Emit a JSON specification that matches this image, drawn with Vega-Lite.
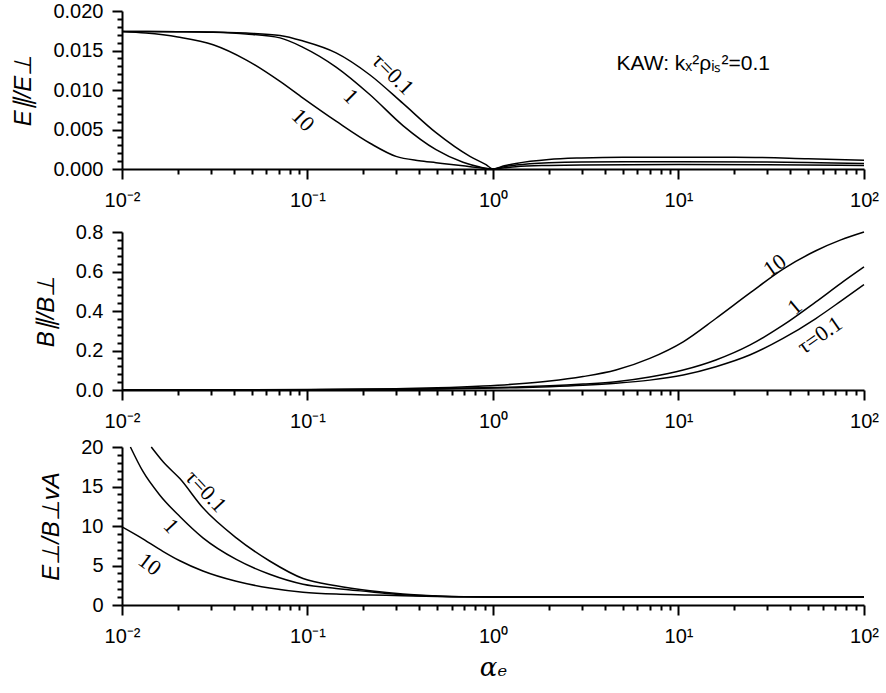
{
  "$schema": "https://vega.github.io/schema/vega-lite/v6.json",
  "padding": {"left": 11, "top": 1, "right": 5, "bottom": 5},
  "background": "white",
  "config": {
    "view": {"stroke": null},
    "axis": {
      "grid": false,
      "domainColor": "black",
      "domainWidth": 2,
      "labelColor": "black",
      "labelFont": "Liberation Sans",
      "labelFontSize": 20,
      "titleColor": "black",
      "titleFont": "Liberation Sans",
      "titleFontSize": 24,
      "titleFontWeight": "normal",
      "titleFontStyle": "italic"
    }
  },
  "datasets": {
    "epar": [
      {"a": 0.01, "v": 0.0174, "tau": "0.1"},
      {"a": 0.02, "v": 0.01738, "tau": "0.1"},
      {"a": 0.031, "v": 0.01735, "tau": "0.1"},
      {"a": 0.0466, "v": 0.0172, "tau": "0.1"},
      {"a": 0.0711, "v": 0.0169, "tau": "0.1"},
      {"a": 0.0946, "v": 0.0162, "tau": "0.1"},
      {"a": 0.1426, "v": 0.0147, "tau": "0.1"},
      {"a": 0.2173, "v": 0.0119, "tau": "0.1"},
      {"a": 0.327, "v": 0.0083, "tau": "0.1"},
      {"a": 0.493, "v": 0.0046, "tau": "0.1"},
      {"a": 0.751, "v": 0.0016, "tau": "0.1"},
      {"a": 0.917, "v": 0.00055, "tau": "0.1"},
      {"a": 1, "v": 0, "tau": "0.1"},
      {"a": 1.15, "v": 0.0004, "tau": "0.1"},
      {"a": 1.33, "v": 0.0007, "tau": "0.1"},
      {"a": 2, "v": 0.0012, "tau": "0.1"},
      {"a": 3, "v": 0.0014, "tau": "0.1"},
      {"a": 5, "v": 0.0015, "tau": "0.1"},
      {"a": 10, "v": 0.0015, "tau": "0.1"},
      {"a": 20, "v": 0.0015, "tau": "0.1"},
      {"a": 50, "v": 0.0013, "tau": "0.1"},
      {"a": 100, "v": 0.0011, "tau": "0.1"},
      {"a": 0.01, "v": 0.0174, "tau": "1"},
      {"a": 0.02, "v": 0.01737, "tau": "1"},
      {"a": 0.031, "v": 0.0173, "tau": "1"},
      {"a": 0.0466, "v": 0.0171, "tau": "1"},
      {"a": 0.0711, "v": 0.0166, "tau": "1"},
      {"a": 0.0946, "v": 0.0154, "tau": "1"},
      {"a": 0.1426, "v": 0.0129, "tau": "1"},
      {"a": 0.2173, "v": 0.0094, "tau": "1"},
      {"a": 0.327, "v": 0.0055, "tau": "1"},
      {"a": 0.493, "v": 0.00245, "tau": "1"},
      {"a": 0.689, "v": 0.00085, "tau": "1"},
      {"a": 0.85, "v": 0.00025, "tau": "1"},
      {"a": 1, "v": 0, "tau": "1"},
      {"a": 1.15, "v": 0.0003, "tau": "1"},
      {"a": 1.33, "v": 0.0005, "tau": "1"},
      {"a": 2, "v": 0.0008, "tau": "1"},
      {"a": 3, "v": 0.0009, "tau": "1"},
      {"a": 10, "v": 0.00092, "tau": "1"},
      {"a": 30, "v": 0.0009, "tau": "1"},
      {"a": 100, "v": 0.0007, "tau": "1"},
      {"a": 0.01, "v": 0.0174, "tau": "10"},
      {"a": 0.01345, "v": 0.0172, "tau": "10"},
      {"a": 0.02, "v": 0.0167, "tau": "10"},
      {"a": 0.031, "v": 0.01573, "tau": "10"},
      {"a": 0.0466, "v": 0.01382, "tau": "10"},
      {"a": 0.0711, "v": 0.01108, "tau": "10"},
      {"a": 0.0946, "v": 0.00897, "tau": "10"},
      {"a": 0.1426, "v": 0.00605, "tau": "10"},
      {"a": 0.2173, "v": 0.00326, "tau": "10"},
      {"a": 0.3, "v": 0.0016, "tau": "10"},
      {"a": 0.4, "v": 0.00105, "tau": "10"},
      {"a": 0.493, "v": 0.0008, "tau": "10"},
      {"a": 0.689, "v": 0.0004, "tau": "10"},
      {"a": 0.85, "v": 0.00015, "tau": "10"},
      {"a": 1, "v": 0, "tau": "10"},
      {"a": 1.15, "v": 0.00015, "tau": "10"},
      {"a": 1.33, "v": 0.0003, "tau": "10"},
      {"a": 2, "v": 0.00045, "tau": "10"},
      {"a": 3, "v": 0.00052, "tau": "10"},
      {"a": 10, "v": 0.00057, "tau": "10"},
      {"a": 30, "v": 0.00055, "tau": "10"},
      {"a": 100, "v": 0.00045, "tau": "10"}
    ],
    "bpar": [
      {"a": 0.01, "v": 0.0001, "tau": "0.1"},
      {"a": 0.1, "v": 0.001, "tau": "0.1"},
      {"a": 0.3, "v": 0.003, "tau": "0.1"},
      {"a": 0.5, "v": 0.005, "tau": "0.1"},
      {"a": 0.883, "v": 0.0086, "tau": "0.1"},
      {"a": 1.33, "v": 0.012, "tau": "0.1"},
      {"a": 2.02, "v": 0.017, "tau": "0.1"},
      {"a": 3.06, "v": 0.024, "tau": "0.1"},
      {"a": 4.6, "v": 0.034, "tau": "0.1"},
      {"a": 7.0, "v": 0.05, "tau": "0.1"},
      {"a": 10.6, "v": 0.076, "tau": "0.1"},
      {"a": 15.9, "v": 0.118, "tau": "0.1"},
      {"a": 24.2, "v": 0.177, "tau": "0.1"},
      {"a": 36.6, "v": 0.261, "tau": "0.1"},
      {"a": 55, "v": 0.362, "tau": "0.1"},
      {"a": 75, "v": 0.45, "tau": "0.1"},
      {"a": 100, "v": 0.534, "tau": "0.1"},
      {"a": 0.01, "v": 0.00013, "tau": "1"},
      {"a": 0.1, "v": 0.0013, "tau": "1"},
      {"a": 0.3, "v": 0.004, "tau": "1"},
      {"a": 0.5, "v": 0.0068, "tau": "1"},
      {"a": 0.883, "v": 0.012, "tau": "1"},
      {"a": 1.33, "v": 0.015, "tau": "1"},
      {"a": 2.02, "v": 0.021, "tau": "1"},
      {"a": 3.06, "v": 0.03, "tau": "1"},
      {"a": 4.6, "v": 0.042, "tau": "1"},
      {"a": 7.0, "v": 0.066, "tau": "1"},
      {"a": 10.6, "v": 0.101, "tau": "1"},
      {"a": 15.9, "v": 0.152, "tau": "1"},
      {"a": 24.2, "v": 0.227, "tau": "1"},
      {"a": 36.6, "v": 0.328, "tau": "1"},
      {"a": 55, "v": 0.446, "tau": "1"},
      {"a": 75, "v": 0.54, "tau": "1"},
      {"a": 100, "v": 0.623, "tau": "1"},
      {"a": 0.01, "v": 0.0002, "tau": "10"},
      {"a": 0.1, "v": 0.0022, "tau": "10"},
      {"a": 0.3, "v": 0.0066, "tau": "10"},
      {"a": 0.5, "v": 0.011, "tau": "10"},
      {"a": 0.883, "v": 0.02, "tau": "10"},
      {"a": 1.33, "v": 0.03, "tau": "10"},
      {"a": 2.02, "v": 0.045, "tau": "10"},
      {"a": 3.06, "v": 0.068, "tau": "10"},
      {"a": 4.6, "v": 0.101, "tau": "10"},
      {"a": 7.0, "v": 0.16, "tau": "10"},
      {"a": 10.6, "v": 0.244, "tau": "10"},
      {"a": 15.9, "v": 0.362, "tau": "10"},
      {"a": 24.2, "v": 0.49, "tau": "10"},
      {"a": 36.6, "v": 0.612, "tau": "10"},
      {"a": 55, "v": 0.705, "tau": "10"},
      {"a": 75, "v": 0.76, "tau": "10"},
      {"a": 100, "v": 0.8, "tau": "10"}
    ],
    "eperp": [
      {"a": 0.01438, "v": 20, "tau": "0.1"},
      {"a": 0.0167, "v": 18.1, "tau": "0.1"},
      {"a": 0.0205, "v": 16.0, "tau": "0.1"},
      {"a": 0.0273, "v": 12.3, "tau": "0.1"},
      {"a": 0.0413, "v": 8.5, "tau": "0.1"},
      {"a": 0.0625, "v": 5.57, "tau": "0.1"},
      {"a": 0.0946, "v": 3.35, "tau": "0.1"},
      {"a": 0.1426, "v": 2.43, "tau": "0.1"},
      {"a": 0.217, "v": 1.8, "tau": "0.1"},
      {"a": 0.327, "v": 1.38, "tau": "0.1"},
      {"a": 0.5, "v": 1.15, "tau": "0.1"},
      {"a": 0.7, "v": 1.06, "tau": "0.1"},
      {"a": 1, "v": 1.02, "tau": "0.1"},
      {"a": 2, "v": 1.005, "tau": "0.1"},
      {"a": 100, "v": 1.0, "tau": "0.1"},
      {"a": 0.0111, "v": 20, "tau": "1"},
      {"a": 0.01297, "v": 16.9, "tau": "1"},
      {"a": 0.016, "v": 13.9, "tau": "1"},
      {"a": 0.0205, "v": 11.2, "tau": "1"},
      {"a": 0.0273, "v": 8.5, "tau": "1"},
      {"a": 0.0413, "v": 5.77, "tau": "1"},
      {"a": 0.0625, "v": 3.89, "tau": "1"},
      {"a": 0.0946, "v": 2.63, "tau": "1"},
      {"a": 0.1426, "v": 2.09, "tau": "1"},
      {"a": 0.217, "v": 1.68, "tau": "1"},
      {"a": 0.327, "v": 1.3, "tau": "1"},
      {"a": 0.5, "v": 1.12, "tau": "1"},
      {"a": 0.7, "v": 1.05, "tau": "1"},
      {"a": 1, "v": 1.02, "tau": "1"},
      {"a": 2, "v": 1.005, "tau": "1"},
      {"a": 100, "v": 1.0, "tau": "1"},
      {"a": 0.01, "v": 9.9, "tau": "10"},
      {"a": 0.0125, "v": 8.6, "tau": "10"},
      {"a": 0.0166, "v": 6.8, "tau": "10"},
      {"a": 0.0205, "v": 5.6, "tau": "10"},
      {"a": 0.0273, "v": 4.3, "tau": "10"},
      {"a": 0.0413, "v": 3.0, "tau": "10"},
      {"a": 0.0625, "v": 2.15, "tau": "10"},
      {"a": 0.0946, "v": 1.62, "tau": "10"},
      {"a": 0.1426, "v": 1.38, "tau": "10"},
      {"a": 0.217, "v": 1.28, "tau": "10"},
      {"a": 0.327, "v": 1.17, "tau": "10"},
      {"a": 0.5, "v": 1.07, "tau": "10"},
      {"a": 0.7, "v": 1.04, "tau": "10"},
      {"a": 1, "v": 1.02, "tau": "10"},
      {"a": 2, "v": 1.005, "tau": "10"},
      {"a": 100, "v": 1.0, "tau": "10"}
    ]
  },
  "vconcat": [
    {
      "width": 742,
      "height": 158,
      "resolve": {"axis": {"x": "independent", "y": "independent"}},
      "layer": [
        {
          "data": {"name": "epar"},
          "mark": {"type": "line", "color": "black", "strokeWidth": 1.5, "interpolate": "monotone"},
          "encoding": {
            "x": {"field": "a", "type": "quantitative",
              "scale": {"type": "log", "domain": [0.01, 100]},
              "axis": {"orient": "bottom", "values": [0.01, 0.1, 1, 10, 100], "tickSize": 10, "tickColor": "black", "tickWidth": 2, "labelFlush": false, "labelPadding": 11, "title": null,
                "labelExpr": "datum.value < 0.05 ? '10⁻²' : datum.value < 0.5 ? '10⁻¹' : datum.value < 5 ? '10⁰' : datum.value < 50 ? '10¹' : '10²'"}},
            "y": {"field": "v", "type": "quantitative",
              "scale": {"domain": [0, 0.02], "nice": false},
              "axis": {"orient": "left", "values": [0, 0.005, 0.01, 0.015, 0.02], "format": ".3f", "tickSize": 10, "tickColor": "black", "tickWidth": 2, "labelPadding": 9, "titlePadding": 17, "title": "E∥/E⊥"}},
            "detail": {"field": "tau"}
          }
        },
        {
          "data": {"values": [{"a": 0.289, "v": 0.012, "txt": "τ=0.1"}]},
          "mark": {"type": "text", "font": "Liberation Serif", "fontSize": 22, "angle": 45, "color": "black"},
          "encoding": {
            "x": {"field": "a", "type": "quantitative", "scale": {"type": "log", "domain": [0.01, 100]},
              "axis": {"orient": "bottom", "values": [0.02,0.03,0.04,0.05,0.06,0.07,0.08,0.09,0.2,0.3,0.4,0.5,0.6,0.7,0.8,0.9,2,3,4,5,6,7,8,9,20,30,40,50,60,70,80,90],
                "labels": false, "domain": false, "tickSize": 5, "tickColor": "black", "tickWidth": 2, "title": null}},
            "y": {"field": "v", "type": "quantitative", "scale": {"domain": [0, 0.02], "nice": false},
              "axis": {"orient": "left", "values": [0.001,0.002,0.003,0.004,0.006,0.007,0.008,0.009,0.011,0.012,0.013,0.014,0.016,0.017,0.018,0.019],
                "labels": false, "domain": false, "tickSize": 5, "tickColor": "black", "tickWidth": 2, "title": null}},
            "text": {"field": "txt"}
          }
        },
        {
          "data": {"values": [{"a": 0.171, "v": 0.0092, "txt": "1"}, {"a": 0.0946, "v": 0.0062, "txt": "10"}]},
          "mark": {"type": "text", "font": "Liberation Serif", "fontSize": 22, "angle": 45, "color": "black"},
          "encoding": {
            "x": {"field": "a", "type": "quantitative", "scale": {"type": "log", "domain": [0.01, 100]}, "axis": null},
            "y": {"field": "v", "type": "quantitative", "scale": {"domain": [0, 0.02], "nice": false}, "axis": null},
            "text": {"field": "txt"}
          }
        },
        {
          "data": {"values": [{"a": 12, "v": 0.0133, "txt": "KAW: kₓ²ρᵢₛ²=0.1"}]},
          "mark": {"type": "text", "font": "Liberation Sans", "fontSize": 21, "color": "black"},
          "encoding": {
            "x": {"field": "a", "type": "quantitative", "scale": {"type": "log", "domain": [0.01, 100]}, "axis": null},
            "y": {"field": "v", "type": "quantitative", "scale": {"domain": [0, 0.02], "nice": false}, "axis": null},
            "text": {"field": "txt"}
          }
        }
      ]
    },
    {
      "spacing": 57,
      "bounds": "flush",
      "vconcat": [
        {
          "width": 742,
          "height": 158,
          "resolve": {"axis": {"x": "independent", "y": "independent"}},
          "layer": [
            {
              "data": {"name": "bpar"},
              "mark": {"type": "line", "color": "black", "strokeWidth": 1.5, "interpolate": "monotone"},
              "encoding": {
                "x": {"field": "a", "type": "quantitative",
                  "scale": {"type": "log", "domain": [0.01, 100]},
                  "axis": {"orient": "bottom", "values": [0.01, 0.1, 1, 10, 100], "tickSize": 10, "tickColor": "black", "tickWidth": 2, "labelFlush": false, "labelPadding": 11, "title": null,
                    "labelExpr": "datum.value < 0.05 ? '10⁻²' : datum.value < 0.5 ? '10⁻¹' : datum.value < 5 ? '10⁰' : datum.value < 50 ? '10¹' : '10²'"}},
                "y": {"field": "v", "type": "quantitative",
                  "scale": {"domain": [0, 0.8], "nice": false},
                  "axis": {"orient": "left", "values": [0, 0.2, 0.4, 0.6, 0.8], "format": ".1f", "tickSize": 10, "tickColor": "black", "tickWidth": 2, "labelPadding": 9, "titlePadding": 17, "title": "B∥/B⊥"}},
                "detail": {"field": "tau"}
              }
            },
            {
              "data": {"values": [{"a": 33, "v": 0.631, "txt": "10"}, {"a": 57.7, "v": 0.278, "txt": "τ=0.1"}]},
              "mark": {"type": "text", "font": "Liberation Serif", "fontSize": 22, "angle": -35, "color": "black"},
              "encoding": {
                "x": {"field": "a", "type": "quantitative", "scale": {"type": "log", "domain": [0.01, 100]},
                  "axis": {"orient": "bottom", "values": [0.02,0.03,0.04,0.05,0.06,0.07,0.08,0.09,0.2,0.3,0.4,0.5,0.6,0.7,0.8,0.9,2,3,4,5,6,7,8,9,20,30,40,50,60,70,80,90],
                    "labels": false, "domain": false, "tickSize": 5, "tickColor": "black", "tickWidth": 2, "title": null}},
                "y": {"field": "v", "type": "quantitative", "scale": {"domain": [0, 0.8], "nice": false},
                  "axis": {"orient": "left", "values": [0.04,0.08,0.12,0.16,0.24,0.28,0.32,0.36,0.44,0.48,0.52,0.56,0.64,0.68,0.72,0.76],
                    "labels": false, "domain": false, "tickSize": 5, "tickColor": "black", "tickWidth": 2, "title": null}},
                "text": {"field": "txt"}
              }
            },
            {
              "data": {"values": [{"a": 42.3, "v": 0.421, "txt": "1"}]},
              "mark": {"type": "text", "font": "Liberation Serif", "fontSize": 22, "angle": -40, "color": "black"},
              "encoding": {
                "x": {"field": "a", "type": "quantitative", "scale": {"type": "log", "domain": [0.01, 100]}, "axis": null},
                "y": {"field": "v", "type": "quantitative", "scale": {"domain": [0, 0.8], "nice": false}, "axis": null},
                "text": {"field": "txt"}
              }
            }
          ]
        },
        {
          "width": 742,
          "height": 158,
          "resolve": {"axis": {"x": "independent", "y": "independent"}},
          "layer": [
            {
              "mark": {"type": "rule", "color": "black", "strokeWidth": 1.2, "strokeDash": [6, 4]},
              "encoding": {"y": {"datum": 1, "type": "quantitative", "scale": {"domain": [0, 20], "nice": false}, "axis": null}}
            },
            {
              "data": {"name": "eperp"},
              "mark": {"type": "line", "color": "black", "strokeWidth": 1.5, "interpolate": "monotone"},
              "encoding": {
                "x": {"field": "a", "type": "quantitative",
                  "scale": {"type": "log", "domain": [0.01, 100]},
                  "axis": {"orient": "bottom", "values": [0.01, 0.1, 1, 10, 100], "tickSize": 10, "tickColor": "black", "tickWidth": 2, "labelFlush": false, "labelPadding": 11, "title": "αₑ", "titleFontSize": 26, "titleFont": "DejaVu Serif", "titlePadding": 8,
                    "labelExpr": "datum.value < 0.05 ? '10⁻²' : datum.value < 0.5 ? '10⁻¹' : datum.value < 5 ? '10⁰' : datum.value < 50 ? '10¹' : '10²'"}},
                "y": {"field": "v", "type": "quantitative",
                  "scale": {"domain": [0, 20], "nice": false},
                  "axis": {"orient": "left", "values": [0, 5, 10, 15, 20], "format": "d", "tickSize": 10, "tickColor": "black", "tickWidth": 2, "labelPadding": 9, "titlePadding": 17, "title": "E⊥/B⊥vA"}},
                "detail": {"field": "tau"}
              }
            },
            {
              "data": {"values": [{"a": 0.0284, "v": 14.4, "txt": "τ=0.1"}, {"a": 0.0184, "v": 10.0, "txt": "1"}]},
              "mark": {"type": "text", "font": "Liberation Serif", "fontSize": 22, "angle": 47, "color": "black"},
              "encoding": {
                "x": {"field": "a", "type": "quantitative", "scale": {"type": "log", "domain": [0.01, 100]},
                  "axis": {"orient": "bottom", "values": [0.02,0.03,0.04,0.05,0.06,0.07,0.08,0.09,0.2,0.3,0.4,0.5,0.6,0.7,0.8,0.9,2,3,4,5,6,7,8,9,20,30,40,50,60,70,80,90],
                    "labels": false, "domain": false, "tickSize": 5, "tickColor": "black", "tickWidth": 2, "title": null}},
                "y": {"field": "v", "type": "quantitative", "scale": {"domain": [0, 20], "nice": false},
                  "axis": {"orient": "left", "values": [1,2,3,4,6,7,8,9,11,12,13,14,16,17,18,19],
                    "labels": false, "domain": false, "tickSize": 5, "tickColor": "black", "tickWidth": 2, "title": null}},
                "text": {"field": "txt"}
              }
            },
            {
              "data": {"values": [{"a": 0.0141, "v": 5.14, "txt": "10"}]},
              "mark": {"type": "text", "font": "Liberation Serif", "fontSize": 22, "angle": 37, "color": "black"},
              "encoding": {
                "x": {"field": "a", "type": "quantitative", "scale": {"type": "log", "domain": [0.01, 100]}, "axis": null},
                "y": {"field": "v", "type": "quantitative", "scale": {"domain": [0, 20], "nice": false}, "axis": null},
                "text": {"field": "txt"}
              }
            }
          ]
        }
      ]
    }
  ],
  "spacing": 63,
  "bounds": "flush"
}
